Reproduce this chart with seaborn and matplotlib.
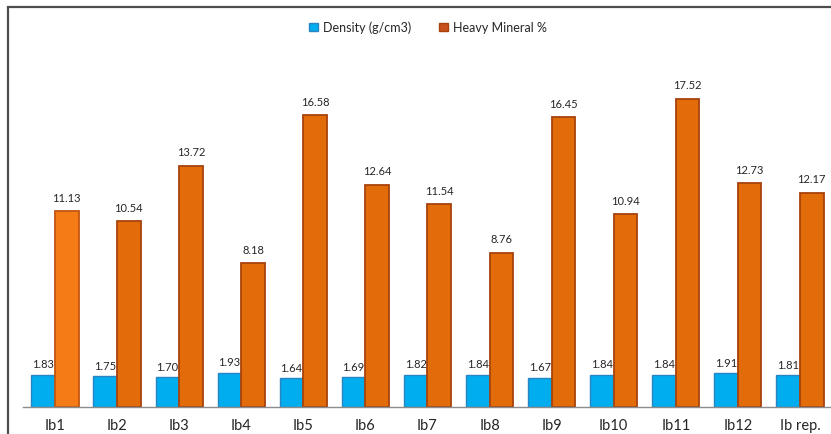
import matplotlib
matplotlib.use("Agg")
import matplotlib.pyplot as plt
from matplotlib.patches import Rectangle
import seaborn as sns
import pandas as pd

samples = ["Ib1", "Ib2", "Ib3", "Ib4", "Ib5", "Ib6", "Ib7", "Ib8", "Ib9",
           "Ib10", "Ib11", "Ib12", "Ib rep."]
density = [1.83, 1.75, 1.70, 1.93, 1.64, 1.69, 1.82, 1.84, 1.67, 1.84, 1.84, 1.91, 1.81]
heavy_mineral = [11.13, 10.54, 13.72, 8.18, 16.58, 12.64, 11.54, 8.76, 16.45,
                 10.94, 17.52, 12.73, 12.17]
series_names = ["Density (g/cm3)", "Heavy Mineral %"]

df = pd.DataFrame({
    "Sample": samples * 2,
    "Series": [series_names[0]] * len(samples) + [series_names[1]] * len(samples),
    "Value": density + heavy_mineral,
})

sns.set_style("white")
plt.rcParams["font.family"] = ["Lato", "DejaVu Sans"]

W, H = 831, 435
fig = plt.figure(figsize=(W / 100, H / 100), dpi=100)
ax = fig.add_axes([23 / W, (H - 408) / H, 808 / W, 352 / H])

palette = {series_names[0]: "#00AEEF", series_names[1]: "#E36C0A"}
sns.barplot(data=df, x="Sample", y="Value", hue="Series", palette=palette,
            width=0.76, gap=0, saturation=1, ax=ax, legend=False)

blue_bars, orange_bars = ax.containers[0], ax.containers[1]
for p in blue_bars:
    p.set_edgecolor("#2A84C4")
    p.set_linewidth(1.0)
for i, p in enumerate(orange_bars):
    p.set_edgecolor("#A8420C")
    p.set_linewidth(1.3)
    if i == 0:
        p.set_facecolor("#F57B17")
        p.set_edgecolor("#C2560F")

ax.bar_label(blue_bars, labels=[f"{v:.2f}" for v in density], padding=4,
             fontsize=8, color="#262626")
ax.bar_label(orange_bars, labels=[f"{v:.2f}" for v in heavy_mineral], padding=6,
             fontsize=8, color="#262626")

ax.set_xlim(-0.515, len(samples) - 0.5)
ax.set_ylim(0, 20)
ax.set_xlabel("")
ax.set_ylabel("")
ax.set_yticks([])
ax.tick_params(axis="x", length=0, pad=8, labelsize=10.5, labelcolor="#262626")
for s in ["top", "right", "left"]:
    ax.spines[s].set_visible(False)
ax.spines["bottom"].set_color("#8C8C8C")
ax.spines["bottom"].set_linewidth(1.0)

# legend
handles = [Rectangle((0, 0), 1, 1, facecolor=palette[series_names[0]], edgecolor="#2A84C4"),
           Rectangle((0, 0), 1, 1, facecolor="#C8501A", edgecolor="#A8420C")]
fig.legend(handles, series_names, loc="center", bbox_to_anchor=(428 / W, 1 - 28 / H),
           ncol=2, frameon=False, fontsize=9, handlelength=0.7, handleheight=0.7,
           handletextpad=0.4, columnspacing=2.2, labelcolor="#262626")

# outer frame
fig.patches.append(Rectangle((8 / W, -0.2), 1.2, 1.2 - 8 / H,
                             transform=fig.transFigure, fill=False,
                             edgecolor="#4D4D4D", linewidth=1.6, zorder=10))

fig.savefig("out.png", dpi=100)
